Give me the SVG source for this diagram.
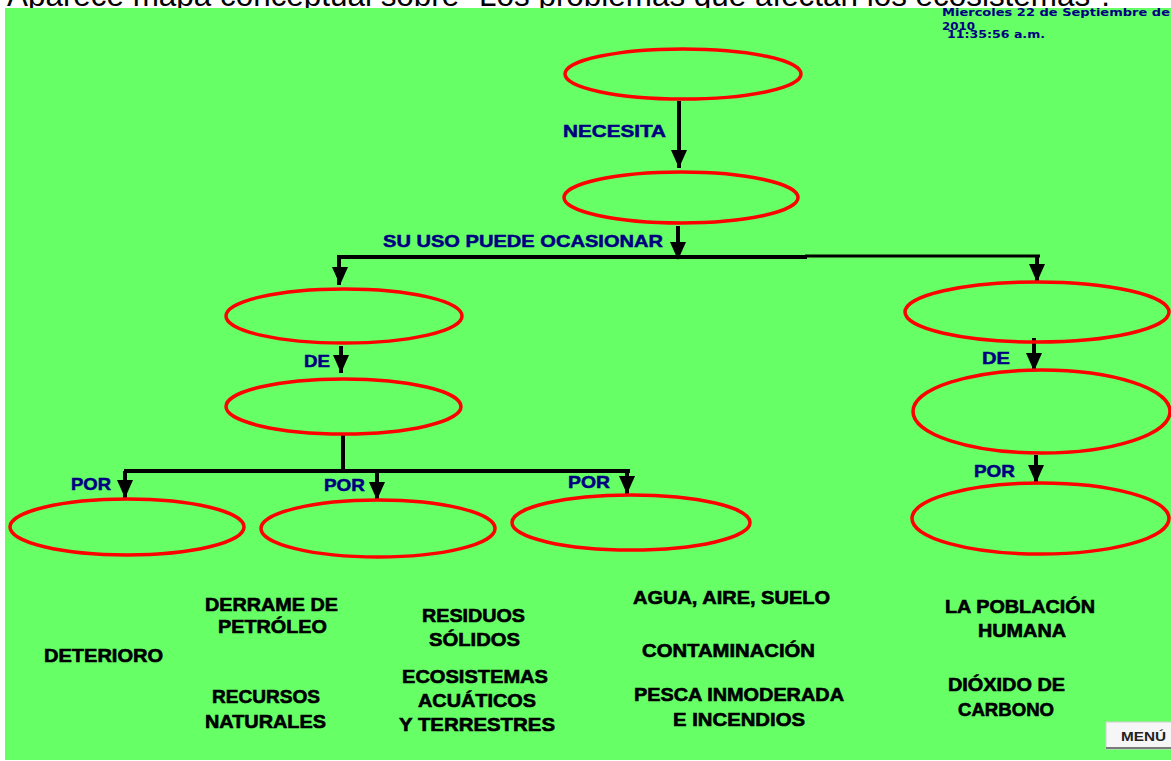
<svg xmlns="http://www.w3.org/2000/svg" xmlns:xlink="http://www.w3.org/1999/xlink" width="1171" height="761" viewBox="0 0 1171 761">
<style>
.ell{fill:none;stroke:#ff0000;stroke-width:3.5}
.con{fill:none;stroke:#000;stroke-width:4}
.lbl{font-family:"Liberation Sans",Arial,sans-serif;font-weight:bold;font-size:17px;fill:#000080;stroke:#000080;stroke-width:0.5}
.txt{font-family:"Liberation Sans",Arial,sans-serif;font-weight:bold;font-size:18px;fill:#000;stroke:#000;stroke-width:0.6}
.date{font-family:"DejaVu Sans",Verdana,sans-serif;font-weight:bold;font-size:11px;fill:#000080}
</style>
<defs>
<path id="ah" d="M-8,-18 L8,-18 L0,0 Z" fill="#000"/>
</defs>
<rect x="0" y="0" width="1171" height="761" fill="#fff"/>
<text x="7" y="5.5" font-family="'Liberation Sans',Arial,sans-serif" font-size="32" fill="#000" textLength="1103" lengthAdjust="spacingAndGlyphs">Aparece mapa conceptual sobre "Los problemas que afectan los ecosistemas".</text>
<rect x="5" y="8" width="1166" height="752" fill="#66ff66"/>

<g id="date">
<text class="date" x="942" y="16" textLength="228" lengthAdjust="spacingAndGlyphs">Miercoles 22 de Septiembre de</text>
<text class="date" x="942" y="30" textLength="33" lengthAdjust="spacingAndGlyphs">2010</text>
<text class="date" x="947" y="38" textLength="98" lengthAdjust="spacingAndGlyphs">11:35:56 a.m.</text>
</g>

<g id="connectors">
<path class="con" d="M679,101 V168"/>
<use href="#ah" xlink:href="#ah" transform="translate(679,168)"/>
<path class="con" d="M678,226 V259"/>
<use href="#ah" xlink:href="#ah" transform="translate(678,260)"/>
<path class="con" d="M337,257 H807" stroke-width="4"/>
<path class="con" d="M805,256 H1040" style="stroke-width:3"/>
<path class="con" d="M339,257 V285"/>
<use href="#ah" xlink:href="#ah" transform="translate(340,285)"/>
<path class="con" d="M1037,255 V282"/>
<use href="#ah" xlink:href="#ah" transform="translate(1037,282)"/>
<path class="con" d="M341,346 V373"/>
<use href="#ah" xlink:href="#ah" transform="translate(341,373)"/>
<path class="con" d="M343,434 V471"/>
<path class="con" d="M124,471 H630"/>
<path class="con" d="M125,471 V498"/>
<use href="#ah" xlink:href="#ah" transform="translate(125,498)"/>
<path class="con" d="M377,471 V500"/>
<use href="#ah" xlink:href="#ah" transform="translate(377,500)"/>
<path class="con" d="M627,471 V494"/>
<use href="#ah" xlink:href="#ah" transform="translate(627,494)"/>
<path class="con" d="M1034,338 V371"/>
<use href="#ah" xlink:href="#ah" transform="translate(1034,371)"/>
<path class="con" d="M1036,455 V483"/>
<use href="#ah" xlink:href="#ah" transform="translate(1036,483)"/>
<text class="lbl" x="563" y="137" textLength="103" lengthAdjust="spacingAndGlyphs">NECESITA</text>
<text class="lbl" x="383" y="247" textLength="280" lengthAdjust="spacingAndGlyphs">SU USO PUEDE OCASIONAR</text>
<text class="lbl" x="304" y="367" textLength="26" lengthAdjust="spacingAndGlyphs">DE</text>
<text class="lbl" x="71" y="490" textLength="40" lengthAdjust="spacingAndGlyphs">POR</text>
<text class="lbl" x="324" y="491" textLength="41" lengthAdjust="spacingAndGlyphs">POR</text>
<text class="lbl" x="568" y="488" textLength="42" lengthAdjust="spacingAndGlyphs">POR</text>
<text class="lbl" x="982" y="364" textLength="28" lengthAdjust="spacingAndGlyphs">DE</text>
<text class="lbl" x="974" y="477" textLength="41" lengthAdjust="spacingAndGlyphs">POR</text>
</g>

<g id="n1"><ellipse class="ell" cx="683" cy="74" rx="118" ry="25"/></g>
<g id="n2"><ellipse class="ell" cx="681" cy="197.5" rx="117" ry="25.5"/></g>
<g id="n3"><ellipse class="ell" cx="344" cy="316" rx="118" ry="27"/></g>
<g id="n4"><ellipse class="ell" cx="343.5" cy="406.5" rx="117.5" ry="27.5"/></g>
<g id="n5"><ellipse class="ell" cx="127" cy="527" rx="117" ry="28"/></g>
<g id="n6"><ellipse class="ell" cx="378" cy="528.5" rx="117" ry="28.5"/></g>
<g id="n7"><ellipse class="ell" cx="631" cy="522.5" rx="119" ry="27.5"/></g>
<g id="n8"><ellipse class="ell" cx="1037" cy="312" rx="132" ry="30"/></g>
<g id="n9"><ellipse class="ell" cx="1041.5" cy="411.5" rx="128.5" ry="41.5"/></g>
<g id="n10"><ellipse class="ell" cx="1040.5" cy="518.5" rx="128.5" ry="35.5"/></g>

<g id="w-derrame">
<text class="txt" x="205" y="611" textLength="133" lengthAdjust="spacingAndGlyphs">DERRAME DE</text>
<text class="txt" x="218" y="633" textLength="109" lengthAdjust="spacingAndGlyphs">PETRÓLEO</text>
</g>
<g id="w-deterioro"><text class="txt" x="44" y="662" textLength="119" lengthAdjust="spacingAndGlyphs">DETERIORO</text></g>
<g id="w-recursos">
<text class="txt" x="212" y="703" textLength="108" lengthAdjust="spacingAndGlyphs">RECURSOS</text>
<text class="txt" x="205" y="728" textLength="121" lengthAdjust="spacingAndGlyphs">NATURALES</text>
</g>
<g id="w-residuos">
<text class="txt" x="422" y="622" textLength="103" lengthAdjust="spacingAndGlyphs">RESIDUOS</text>
<text class="txt" x="429" y="646" textLength="91" lengthAdjust="spacingAndGlyphs">SÓLIDOS</text>
</g>
<g id="w-ecosistemas">
<text class="txt" x="402" y="683" textLength="146" lengthAdjust="spacingAndGlyphs">ECOSISTEMAS</text>
<text class="txt" x="418" y="707" textLength="118" lengthAdjust="spacingAndGlyphs">ACUÁTICOS</text>
<text class="txt" x="399" y="731" textLength="156" lengthAdjust="spacingAndGlyphs">Y TERRESTRES</text>
</g>
<g id="w-agua"><text class="txt" x="633" y="604" textLength="197" lengthAdjust="spacingAndGlyphs">AGUA, AIRE, SUELO</text></g>
<g id="w-contaminacion"><text class="txt" x="642" y="657" textLength="173" lengthAdjust="spacingAndGlyphs">CONTAMINACIÓN</text></g>
<g id="w-pesca">
<text class="txt" x="634" y="701" textLength="210" lengthAdjust="spacingAndGlyphs">PESCA INMODERADA</text>
<text class="txt" x="673" y="726" textLength="132" lengthAdjust="spacingAndGlyphs">E INCENDIOS</text>
</g>
<g id="w-poblacion">
<text class="txt" x="945" y="613" textLength="150" lengthAdjust="spacingAndGlyphs">LA POBLACIÓN</text>
<text class="txt" x="978" y="637" textLength="88" lengthAdjust="spacingAndGlyphs">HUMANA</text>
</g>
<g id="w-dioxido">
<text class="txt" x="948" y="691" textLength="117" lengthAdjust="spacingAndGlyphs">DIÓXIDO DE</text>
<text class="txt" x="958" y="716" textLength="96" lengthAdjust="spacingAndGlyphs">CARBONO</text>
</g>

<g id="menu">
<rect x="1106" y="722" width="70" height="27" fill="#f6f6f6" stroke="#d0d0d0" stroke-width="1"/>
<rect x="1106" y="747" width="70" height="2" fill="#7a7a7a"/>
<text x="1121" y="741" font-family="'Liberation Sans',Arial,sans-serif" font-weight="bold" font-size="12" fill="#222" textLength="45" lengthAdjust="spacingAndGlyphs">MENÚ</text>
</g>
</svg>
